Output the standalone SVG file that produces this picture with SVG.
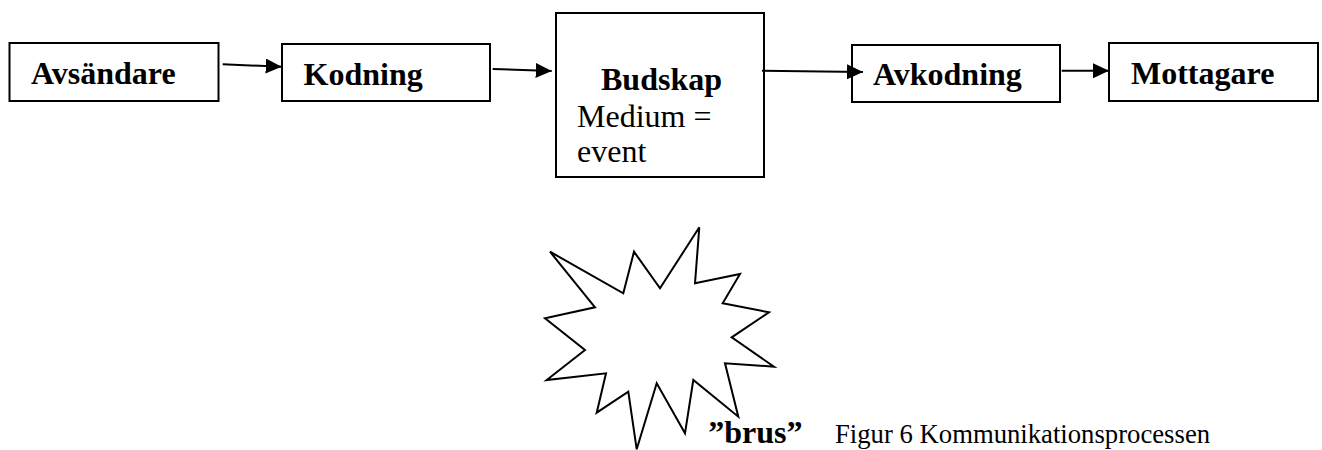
<svg xmlns="http://www.w3.org/2000/svg" width="1322" height="450" viewBox="0 0 1322 450">
  <style>
    .box { fill: #fff; stroke: #000; stroke-width: 2; }
    .title { font-family: "Liberation Serif", "Times New Roman", serif; font-weight: bold; font-size: 32px; fill: #000; }
    .body { font-family: "Liberation Serif", "Times New Roman", serif; font-size: 32px; fill: #000; }
    .caption { font-family: "Liberation Serif", "Times New Roman", serif; font-size: 26.7px; fill: #000; }
    .flow { fill: none; stroke: #000; stroke-width: 2; marker-end: url(#head); }
    .burst { fill: #fff; stroke: #000; stroke-width: 2; stroke-linejoin: miter; }
  </style>
  <defs>
    <marker id="head" markerUnits="userSpaceOnUse" markerWidth="17" markerHeight="16" refX="16" refY="7.5" orient="auto">
      <path d="M0,0 L16,7.5 L0,15 Z" fill="#000"/>
    </marker>
  </defs>
  <rect width="1322" height="450" fill="#fff"/>

  <g id="avsandare">
    <rect class="box" x="9.5" y="43" width="209" height="58"/>
    <text class="title" x="31" y="83.5">Avsändare</text>
  </g>

  <g id="kodning">
    <rect class="box" x="282" y="44" width="208" height="57"/>
    <text class="title" x="303.5" y="84.5">Kodning</text>
  </g>

  <g id="budskap">
    <rect class="box" x="556" y="13" width="208" height="164"/>
    <text class="title" x="601" y="90">Budskap</text>
    <text class="body" x="577" y="126.5">Medium =</text>
    <text class="body" x="577" y="161.5">event</text>
  </g>

  <g id="avkodning">
    <rect class="box" x="852" y="45" width="208" height="57"/>
    <text class="title" x="873" y="84.5">Avkodning</text>
  </g>

  <g id="mottagare">
    <rect class="box" x="1109" y="43" width="209" height="58"/>
    <text class="title" x="1131" y="83.5">Mottagare</text>
  </g>

  <g id="connectors">
    <line class="flow" x1="222.7" y1="64.3" x2="281.7" y2="66.7"/>
    <line class="flow" x1="492.7" y1="69" x2="551.7" y2="71"/>
    <line class="flow" x1="762" y1="70.7" x2="863" y2="72"/>
    <line class="flow" x1="1061.7" y1="70.7" x2="1109" y2="70.7"/>
  </g>

  <g id="brus">
    <polygon class="burst" points="550,251.7 623.3,293.3 634,251.7 660,288.3 699.3,227.3 695,283.3 740,274 722.7,303.3 769,312.3 731.7,337.3 774,366.7 725,363.3 738.3,416.7 693.3,380 685,433.3 656.7,383.3 636.7,449.3 628.3,391.7 596.7,412.7 606,373.3 546.7,380 585,350 545,318.3 595,307.3"/>
    <text class="title" x="708.3" y="442.7">”brus”</text>
  </g>

  <text class="caption" x="835" y="442.7">Figur 6 Kommunikationsprocessen</text>
</svg>
